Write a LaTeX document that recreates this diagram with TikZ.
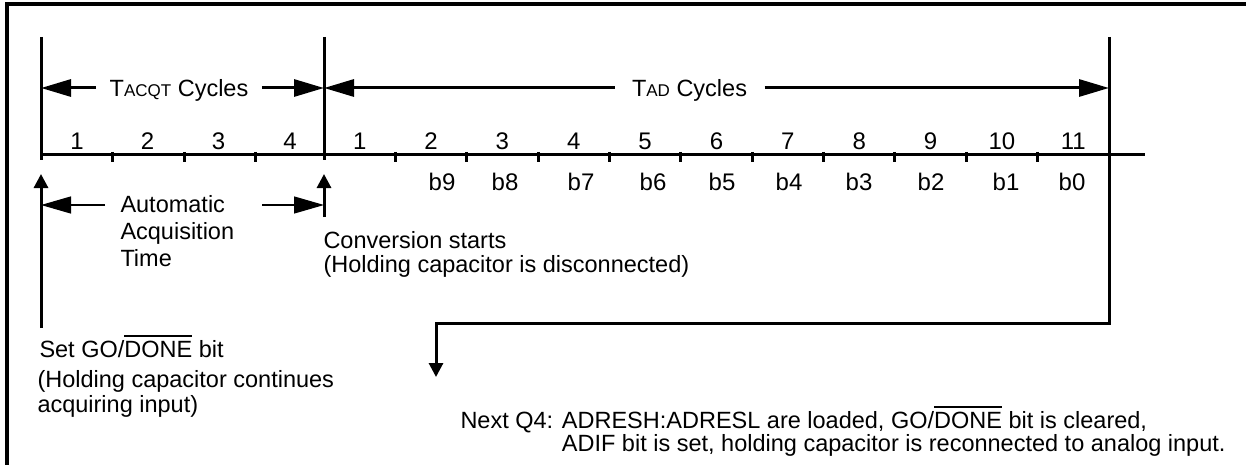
\documentclass[tikz,border=0pt]{standalone}
\usepackage{fontspec}
\setmainfont{Liberation Sans}
\usetikzlibrary{arrows.meta}

\newcommand{\ovl}[1]{\setbox0\hbox{#1}\rlap{\rule[\dimexpr\ht0+4pt\relax]{\wd0}{1.4pt}}\box0\relax}
\newcommand{\txtsize}{\fontsize{23.5pt}{27pt}\selectfont}
\newcommand{\tightsize}{\fontsize{23.5pt}{24.5pt}\selectfont}
\newcommand{\numsize}{\fontsize{24pt}{26pt}\selectfont}
\newcommand{\scsize}{\fontsize{17pt}{17pt}\selectfont}

\tikzset{every picture/.style={line width=3pt}}
\tikzset{
  bigtip/.style={-{Triangle[length=30pt,width=17pt]}},
  smalltip/.style={-{Triangle[length=14pt,width=14pt]}},
  lbl/.style={inner sep=0pt, anchor=base west, align=left, font=\txtsize},
  num/.style={inner sep=0pt, anchor=base, font=\numsize},
  spanlbl/.style={inner ysep=0pt, inner xsep=12pt, text height=17pt, text depth=0pt, font=\txtsize},
}

\begin{document}
\begin{tikzpicture}[x=1pt,y=1pt,yscale=-1]
\useasboundingbox (0,0) rectangle (1246,465);

%Frame
\draw[line width=4pt] (6.5,465) -- (6.5,4) -- (1246,4);

%Coordinates
\coordinate (goTop) at (41,37);
\coordinate (cvTop) at (324,37);
\coordinate (adTop) at (1109,37);
\coordinate (acqL) at (41,88);
\coordinate (acqR) at (324,88);
\coordinate (adR) at (1109,88);
\coordinate (goBot) at (41,160);
\coordinate (cvBot) at (324,160);
\coordinate (axL) at (41,155);
\coordinate (axR) at (1145,155);
\coordinate (goHead) at (41,174);
\coordinate (goFoot) at (41,328);
\coordinate (cvHead) at (324,174);
\coordinate (cvFoot) at (324,217);
\coordinate (autoL) at (105,205);
\coordinate (autoR) at (262,205);
\coordinate (goA) at (41,205);
\coordinate (cvA) at (324,205);
\coordinate (adTurn) at (1109,323);
\coordinate (loadTip) at (436,377);

%Straight Lines
\draw (goTop) -- (goBot);
\draw (cvTop) -- (cvBot);
\draw (axL) -- (axR);
\foreach \x in {112,184,255} \draw (\x,152) -- (\x,162);
\foreach \k in {1,...,10} \draw ({324+71.36*\k},152) -- ++(0,10);

% Text Node
\node[spanlbl] (tacq) at (179,88) {T{\scsize ACQT} Cycles};
\node[spanlbl, inner xsep=16pt] (tad) at (689.5,88) {T{\scsize AD} Cycles};
\draw[bigtip] (tacq) -- (acqL);
\draw[bigtip] (tacq) -- (acqR);
\draw[bigtip] (tad) -- (acqR);
\draw[bigtip] (tad) -- (adR);

% Text Node
\foreach \n/\x in {1/77,2/147.5,3/218.5,4/290}
  \node[num] (acq\n) at (\x,150) {\n};
\foreach \n in {1,...,11}
  \node[num] (ad\n) at ({324+71.36*(\n-0.5)},150) {\n};
\foreach \b/\x in {9/442,8/505,7/581,6/653,5/722,4/789,3/859,2/931,1/1006,0/1072}
  \node[num] (bit\b) at (\x,190) {b\b};

%Arrows
\draw[smalltip] (goFoot) -- (goHead);
\draw[smalltip] (cvFoot) -- (cvHead);
\draw[bigtip, line width=1.3pt] (autoL) -- (goA);
\draw[bigtip, line width=1.3pt] (autoR) -- (cvA);
\draw[smalltip] (adTop) -- (adTurn) -| (loadTip);

% Text Node (multi-line nodes sit on their last baseline)
\node[lbl] (auto) at (119,266) {Automatic\\Acquisition\\Time};
\node[lbl, font=\tightsize] (conv) at (322,272.5) {Conversion starts\\(Holding capacitor is disconnected)};
\node[lbl] (setgo) at (38,357) {Set GO/\ovl{DONE} bit};
\node[lbl, font=\tightsize] (hold) at (36,412) {(Holding capacitor continues\\acquiring input)};
\node[lbl, font=\fontsize{23.5pt}{23pt}\selectfont] (next) at (459,451)
  {Next Q4: ADRESH:ADRESL are loaded, GO/\ovl{DONE} bit is cleared,\\
   \hphantom{Next Q4: }ADIF bit is set, holding capacitor is reconnected to analog input.};

\end{tikzpicture}
\end{document}
